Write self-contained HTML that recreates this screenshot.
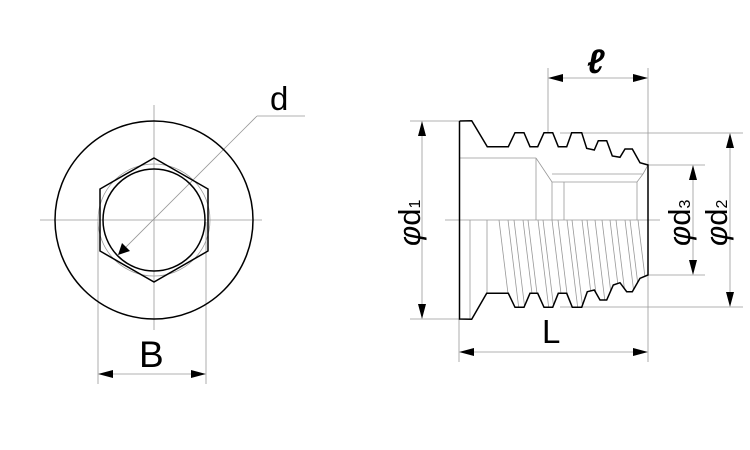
<!DOCTYPE html>
<html><head><meta charset="utf-8"><style>
html,body{margin:0;padding:0;background:#fff;width:750px;height:450px;overflow:hidden}
text{font-family:"Liberation Sans",sans-serif;fill:#000}
</style></head><body>
<svg width="750" height="450" viewBox="0 0 750 450" xmlns="http://www.w3.org/2000/svg">
<defs>
<clipPath id="low"><polygon points="472,220 472,319.3 486.7,293.3 508.3,293.3 515,307.3 524,307.3 530,293.3 537.7,293.3 544,307.3 552.7,307.3 558.3,293.3 566.7,293.3 572.3,307.3 581.7,307.3 587.3,291.7 594.3,290 600,300 606.7,300 613.3,285 620,282.7 626.7,291.7 632.3,291.7 640,278.3 648,275 648,220"/></clipPath>
</defs>
<g fill="none" stroke="#999" stroke-width="0.8">
<line x1="40" y1="220" x2="262" y2="220"/>
<line x1="154" y1="105" x2="154" y2="330"/>
<line x1="98" y1="222" x2="98" y2="384"/>
<line x1="206" y1="222" x2="206" y2="384"/>
<line x1="112" y1="374" x2="192" y2="374"/>
<line x1="125" y1="248" x2="257" y2="116"/>
<line x1="257" y1="116" x2="305" y2="116"/>
<circle cx="154" cy="220" r="56"/>
<line x1="445" y1="220" x2="660" y2="220"/>
<line x1="410" y1="121" x2="459" y2="121"/>
<line x1="410" y1="319" x2="459" y2="319"/>
<line x1="422" y1="135" x2="422" y2="305"/>
<line x1="648" y1="165" x2="705" y2="165"/>
<line x1="648" y1="275" x2="705" y2="275"/>
<line x1="693" y1="179" x2="693" y2="261"/>
<line x1="560" y1="133" x2="743" y2="133"/>
<line x1="560" y1="307" x2="743" y2="307"/>
<line x1="730" y1="147" x2="730" y2="293"/>
<line x1="459" y1="319" x2="459" y2="362"/>
<line x1="648" y1="68" x2="648" y2="362"/>
<line x1="473" y1="352" x2="634" y2="352"/>
<line x1="548" y1="68" x2="548" y2="133"/>
<line x1="562" y1="78" x2="634" y2="78"/>
<line x1="459" y1="158" x2="536" y2="158"/>
<line x1="536" y1="158" x2="552" y2="182"/>
<line x1="552" y1="174" x2="643" y2="174"/>
<line x1="552" y1="182" x2="637" y2="182"/>
<line x1="643" y1="174" x2="648" y2="165"/>
<line x1="643" y1="174" x2="637" y2="182"/>
<line x1="536" y1="158" x2="536" y2="220"/>
<line x1="552" y1="182" x2="552" y2="220"/>
<line x1="564" y1="182" x2="564" y2="220"/>
<line x1="637" y1="182" x2="637" y2="220"/>
<line x1="470" y1="220" x2="470" y2="319"/>
<line x1="487" y1="220" x2="487" y2="294"/>
<g clip-path="url(#low)">
<line x1="499" y1="220" x2="510" y2="310"/><line x1="508" y1="220" x2="519" y2="310"/>
<line x1="514" y1="220" x2="525" y2="310"/><line x1="523" y1="220" x2="534" y2="310"/>
<line x1="528" y1="220" x2="539" y2="310"/><line x1="538" y1="220" x2="549" y2="310"/>
<line x1="543" y1="220" x2="554" y2="310"/><line x1="552" y1="220" x2="563" y2="310"/>
<line x1="558" y1="220" x2="569" y2="310"/><line x1="567" y1="220" x2="578" y2="310"/>
<line x1="572" y1="220" x2="583" y2="310"/><line x1="582" y1="220" x2="593" y2="310"/>
<line x1="587" y1="220" x2="598" y2="310"/><line x1="595" y1="220" x2="606" y2="310"/>
<line x1="602" y1="220" x2="613" y2="310"/><line x1="610" y1="220" x2="621" y2="310"/>
<line x1="616" y1="220" x2="627" y2="310"/><line x1="625" y1="220" x2="636" y2="310"/>
<line x1="630" y1="220" x2="641" y2="310"/><line x1="638" y1="220" x2="649" y2="310"/>
</g>
</g>
<g fill="none" stroke="#000" stroke-width="1.5">
<circle cx="154" cy="220" r="99"/>
<polygon points="154,158 208,189 208,251 154,282 100,251 100,189"/>
<circle cx="154" cy="220" r="51"/>
<polyline points="459.5,121 459.5,319 471.7,319.3 486.7,293.3 508.3,293.3 515,307.3 524,307.3 530,293.3 537.7,293.3 544,307.3 552.7,307.3 558.3,293.3 566.7,293.3 572.3,307.3 581.7,307.3 587.3,291.7 594.3,290 600,300 606.7,300 613.3,285 620,282.7 626.7,291.7 632.3,291.7 640,278.3 648,275 648,165 640,162.7 632.3,149 625,149 620,157.3 612.3,156 606.7,140.7 598.3,140.7 594.3,150 586.7,148.3 581.7,132.7 571.7,132.7 566.7,146.7 558.3,146.7 552.7,132.7 544,132.7 537.7,146.7 530,146.7 524,132.7 515,132.7 508.3,146.7 487.3,146.7 471.7,120.7 459.5,121"/>
</g>
<g fill="#000">
<polygon points="98,374 113,370 113,378"/><polygon points="206,374 191,370 191,378"/>
<polygon points="118,255 122,243 130,251"/>
<polygon points="422,121 418,136 426,136"/><polygon points="422,319 418,304 426,304"/>
<polygon points="693,165 689,180 697,180"/><polygon points="693,275 689,260 697,260"/>
<polygon points="730,133 726,148 734,148"/><polygon points="730,307 726,292 734,292"/>
<polygon points="459,352 474,348 474,356"/><polygon points="648,352 633,348 633,356"/>
<polygon points="548,78 563,74 563,82"/><polygon points="648,78 633,74 633,82"/>
</g>
<text x="139" y="367" font-size="37">B</text>
<text x="270" y="110" font-size="33">d</text>
<text x="542" y="343" font-size="33">L</text>
<text x="587" y="73" font-size="34" font-weight="bold" font-style="italic" font-family="Liberation Serif">ℓ</text>
<text transform="translate(420,246) rotate(-90)" font-size="31"><tspan font-style="italic">φ</tspan>d<tspan font-size="16">1</tspan></text>
<text transform="translate(690,246) rotate(-90)" font-size="31"><tspan font-style="italic">φ</tspan>d<tspan font-size="16">3</tspan></text>
<text transform="translate(727,246) rotate(-90)" font-size="31"><tspan font-style="italic">φ</tspan>d<tspan font-size="16">2</tspan></text>
</svg>
</body></html>
